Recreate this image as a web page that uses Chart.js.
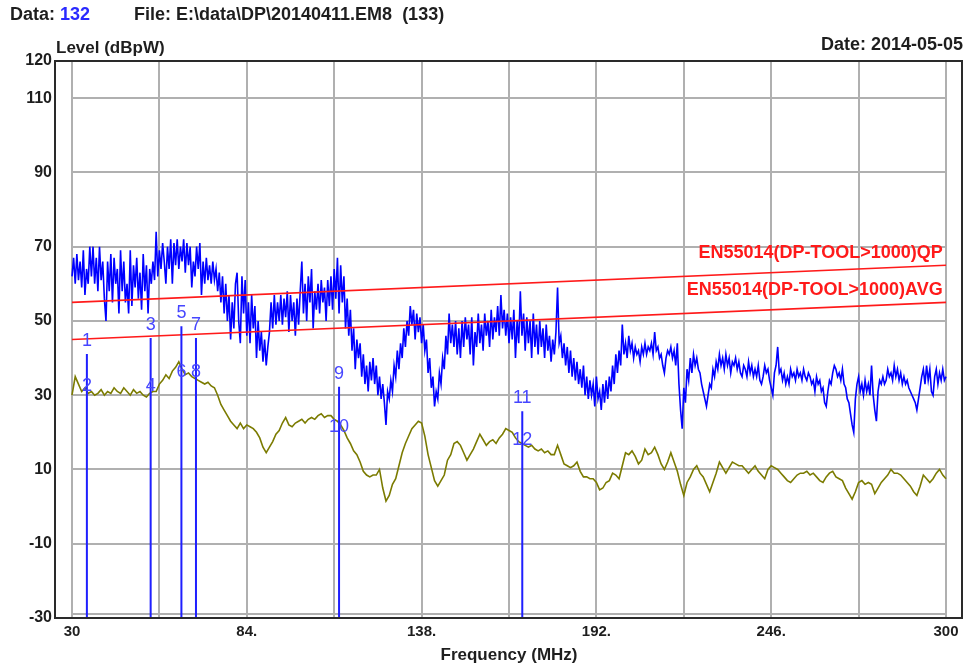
<!DOCTYPE html>
<html><head><meta charset="utf-8">
<script src="https://cdn.jsdelivr.net/npm/chart.js@4/dist/chart.umd.min.js"></script>
<style>html,body{margin:0;padding:0;background:#fff;overflow:hidden}#wrap{width:968px;height:667px}</style>
</head><body><div id="wrap"><canvas id="c" width="968" height="667"></canvas></div>
<script>
// Peak (blue) trace: frequencies in MHz and levels in dBpW
const peakFreqMHz = [
 30,30.5,31,31.5,32,32.5,33,33.5,34,34.5,35,35.5,36,36.5,37,37.5,38,38.5,39,39.5,
 40,40.5,41,41.5,42,42.5,43,43.5,44,44.5,45,45.5,46,46.5,47,47.5,48,48.5,49,49.5,
 50,50.5,51,51.5,52,52.5,53,53.5,54,54.5,55,55.5,56,56.5,57,57.5,58,58.5,59,59.5,
 60,60.5,61,61.5,62,62.5,63,63.5,64,64.5,65,65.5,66,66.5,67,67.5,68,68.5,69,69.5,
 70,70.5,71,71.5,72,72.5,73,73.5,74,74.5,75,75.5,76,76.5,77,77.5,78,78.5,79,79.5,
 80,80.5,81,81.5,82,82.5,83,83.5,84,84.5,85,85.5,86,86.5,87,87.5,88,88.5,89,89.5,
 90,90.5,91,91.5,92,92.5,93,93.5,94,94.5,95,95.5,96,96.5,97,97.5,98,98.5,99,99.5,
 100,100.5,101,101.5,102,102.5,103,103.5,104,104.5,105,105.5,106,106.5,107,107.5,108,108.5,109,109.5,
 110,110.5,111,111.5,112,112.5,113,113.5,114,114.5,115,115.5,116,116.5,117,117.5,118,118.5,119,119.5,
 120,120.5,121,121.5,122,122.5,123,123.5,124,124.5,125,125.5,126,126.5,127,127.5,128,128.5,129,129.5,
 130,130.5,131,131.5,132,132.5,133,133.5,134,134.5,135,135.5,136,136.5,137,137.5,138,138.5,139,139.5,
 140,140.5,141,141.5,142,142.5,143,143.5,144,144.5,145,145.5,146,146.5,147,147.5,148,148.5,149,149.5,
 150,150.5,151,151.5,152,152.5,153,153.5,154,154.5,155,155.5,156,156.5,157,157.5,158,158.5,159,159.5,
 160,160.5,161,161.5,162,162.5,163,163.5,164,164.5,165,165.5,166,166.5,167,167.5,168,168.5,169,169.5,
 170,170.5,171,171.5,172,172.5,173,173.5,174,174.5,175,175.5,176,176.5,177,177.5,178,178.5,179,179.5,
 180,180.5,181,181.5,182,182.5,183,183.5,184,184.5,185,185.5,186,186.5,187,187.5,188,188.5,189,189.5,
 190,190.5,191,191.5,192,192.5,193,193.5,194,194.5,195,195.5,196,196.5,197,197.5,198,198.5,199,199.5,
 200,200.5,201,201.5,202,202.5,203,203.5,204,204.5,205,205.5,206,206.5,207,207.5,208,208.5,209,209.5,
 210,210.5,211,211.5,212,212.5,213,213.5,214,214.5,215,215.5,216,216.5,217,217.5,218,218.5,219,219.5,
 220,220.5,221,221.5,222,222.5,223,223.5,224,224.5,225,225.5,226,226.5,227,227.5,228,228.5,229,229.5,
 230,230.5,231,231.5,232,232.5,233,233.5,234,234.5,235,235.5,236,236.5,237,237.5,238,238.5,239,239.5,
 240,240.5,241,241.5,242,242.5,243,243.5,244,244.5,245,245.5,246,246.5,247,247.5,248,248.5,249,249.5,
 250,250.5,251,251.5,252,252.5,253,253.5,254,254.5,255,255.5,256,256.5,257,257.5,258,258.5,259,259.5,
 260,260.5,261,261.5,262,262.5,263,263.5,264,264.5,265,265.5,266,266.5,267,267.5,268,268.5,269,269.5,
 270,270.5,271,271.5,272,272.5,273,273.5,274,274.5,275,275.5,276,276.5,277,277.5,278,278.5,279,279.5,
 280,280.5,281,281.5,282,282.5,283,283.5,284,284.5,285,285.5,286,286.5,287,287.5,288,288.5,289,289.5,
 290,290.5,291,291.5,292,292.5,293,293.5,294,294.5,295,295.5,296,296.5,297,297.5,298,298.5,299,299.5,
 300];

const peakLevel = [
 62,67,60,68,61,66,59,69,57,64,60,70,62,70,60,67,58,70,61,66,
 56,50,66,58,68,55,67,60,64,52,69,58,66,55,60,52,69,54,65,59,
 67,56,63,53,68,58,65,52,64,60,66,61,74,62,69,64,71,66,60,70,
 64,72,60,71,65,72,64,70,66,72,63,71,65,70,59,66,62,70,64,71,
 57,66,60,67,61,65,60,66,61,64,58,63,55,62,52,60,50,57,45,55,
 48,60,63,50,44,62,52,61,46,55,44,57,48,54,40,50,42,47,39,45,
 38,43,47,55,48,57,49,55,50,57,49,56,51,58,47,57,50,55,46,56,
 49,58,66,52,60,50,62,55,64,48,58,53,60,52,61,55,59,50,61,54,
 62,53,64,56,67,52,65,55,62,48,56,46,53,42,48,37,45,40,44,35,
 41,33,38,31,39,34,40,33,38,30,35,29,33,28,22,31,29,34,31,38,
 35,42,37,44,40,48,43,50,46,54,49,53,45,52,47,51,44,49,42,45,
 36,40,32,35,27,31,29,36,33,40,37,46,41,52,44,49,43,50,41,48,
 40,50,43,51,45,49,41,51,38,47,43,52,44,49,42,52,46,50,43,53,
 45,51,47,54,46,57,48,53,46,52,44,51,45,53,40,50,44,58,46,52,
 42,51,44,50,40,52,43,49,41,50,43,48,40,49,42,46,39,45,41,47,
 59,44,46,40,44,38,43,36,42,35,40,34,39,33,37,32,38,30,35,29,
 34,30,33,27,35,29,31,26,33,28,34,29,35,31,38,33,41,36,42,38,
 49,41,44,40,46,42,44,40,43,41,42,39,43,41,44,41,43,42,44,41,
 47,42,43,40,41,38,36,40,42,41,43,40,42,38,44,33,26,21,32,28,
 37,34,40,36,41,38,40,37,36,33,31,29,27,30,33,32,37,35,39,37,
 41,38,40,37,41,38,40,36,39,38,40,37,39,36,35,38,37,35,39,36,
 38,35,37,35,38,34,33,35,38,36,37,34,32,30,36,38,43,36,37,34,
 36,33,35,33,37,35,36,34,37,35,36,34,37,35,34,36,35,33,34,31,
 35,33,34,31,32,28,27,31,34,33,36,38,37,35,36,34,37,33,32,29,
 28,25,22,20,29,33,35,31,33,30,34,31,33,30,38,30,26,23,31,34,
 33,35,33,34,37,35,36,34,38,35,37,34,36,33,35,33,34,32,31,30,
 29,28,26,29,32,35,37,33,38,34,37,31,30,35,37,33,36,34,37,34,
 35];

// Average (olive) trace
const avgFreqMHz = [
 30,31,32,33,34,35,36,37,38,39, 40,41,42,43,44,45,46,47,48,49,
 50,51,52,53,54,55,56,57,58,59, 60,61,62,63,64,65,66,67,68,69,
 70,71,72,73,74,75,76,77,78,79, 80,81,82,83,84,85,86,87,88,89,
 90,91,92,93,94,95,96,97,98,99, 100,101,102,103,104,105,106,107,108,109,
 110,111,112,113,114,115,116,117,118,119, 120,121,122,123,124,125,126,127,128,129,
 130,131,132,133,134,135,136,137,138,139, 140,141,142,143,144,145,146,147,148,149,
 150,151,152,153,154,155,156,157,158,159, 160,161,162,163,164,165,166,167,168,169,
 170,171,172,173,174,175,176,177,178,179, 180,181,182,183,184,185,186,187,188,189,
 190,191,192,193,194,195,196,197,198,199, 200,201,202,203,204,205,206,207,208,209,
 210,211,212,213,214,215,216,217,218,219, 220,221,222,223,224,225,226,227,228,229,
 230,231,232,233,234,235,236,237,238,239, 240,241,242,243,244,245,246,247,248,249,
 250,251,252,253,254,255,256,257,258,259, 260,261,262,263,264,265,266,267,268,269,
 270,271,272,273,274,275,276,277,278,279, 280,281,282,283,284,285,286,287,288,289,
 290,291,292,293,294,295,296,297,298,299, 300];

const avgLevel = [
 30,35,33,31,32,30.5,31,30,30.5,31.5, 30,31,30.5,32,31,30.5,32,31,30,31.5,
 30.5,31,30,29.5,30.5,31,31,33,34,35.5, 34.5,36.5,37.5,39,37,35.5,36,35,34.5,34,
 33.5,33,33.5,32.5,32,30,27.5,26,24.5,23, 22,21,22.5,21,22,21.5,21,20,18.5,16,
 14.5,16,17.5,19.5,20.5,22.5,24,22,21.5,22.5, 23,23.5,22.5,23.5,24,23.5,24.5,25,24,24.5,
 24.5,23.5,23,22,20.5,18.5,17,15,14,12, 9.5,8.5,8,8.5,8.5,10,5,1.5,3,6,
 7.5,11,14.5,17,19,21,22,23,22.5,19, 14,10.5,7,5.5,7,8.5,12.5,14,17,17.5,
 16.5,14.5,12.5,14,15.5,17.5,19.5,18,16.5,17.5, 18,17,18.5,19.5,21,20.5,20,18.5,17.5,17,
 16.5,16,16.5,15.5,15,15.5,14.5,15,14,14, 16.5,14,11.5,11,10.5,11,12,9.5,8,8,
 7.5,7.5,6.5,4.5,5,6.5,7,9,8.5,7.5, 11,14.5,14,15,13.5,11.5,12.5,15.5,14,14.5,
 16,14,11.5,10,12,14.5,12,9.5,6,3, 6.5,8,10,11,9,8,6,4,6.5,9,
 12,10.5,9,10.5,12,11.5,11,11,10,9, 10,11,9.5,8.5,7.5,10,11,10.5,10,9,
 8,7,6.5,7.5,8.5,9,9,9.5,8.5,9, 8,7,6.5,8,9,9.5,8,7.5,7,5,
 3.5,2,4,6.5,7,6,6.5,6,3.5,5, 6.5,7.5,8.5,10,9,9,8.5,7.5,6.5,5.5,
 4,3,5.5,8.5,7.5,6.5,7.5,9,10,8.5, 7.5];

const limitFreq = [30, 300];
const limitQP = [55, 65];
const limitAVG = [45, 55];
const limitNames = ['EN55014(DP-TOOL>1000)QP', 'EN55014(DP-TOOL>1000)AVG'];

const markerFreq = [34.6, 54.3, 63.8, 68.3, 112.5, 169.1];
const markerPeak = [41.1, 45.4, 48.6, 45.4, 32.3, 25.7];
const markerAvg = [32.5, 32.5, 36.2, 36.2, 21.4, 17.9];
const markerPeakLabels = ['1', '3', '5', '7', '9', '11'];
const markerAvgLabels = ['2', '4', '6', '8', '10', '12'];

const xTickValues = [30, 57, 84, 111, 138, 165, 192, 219, 246, 273, 300];
const xTickLabels = {30: '30', 84: '84.', 138: '138.', 192: '192.', 246: '246.', 300: '300'};
const yTickValues = [-30, -10, 10, 30, 50, 70, 90, 110, 120];
const yGridValues = [110, 90, 70, 50, 30, 10, -10, -29];

const FONT = '"Liberation Sans", Arial, sans-serif';
const TXT = '#1e1e1e';
const GRID = '#b0b0b0';

const markerDatasets = markerFreq.map((f, i) => ({
  data: [{x: f, y: markerPeak[i]}, {x: f, y: -30}],
  borderColor: '#1f1fff', borderWidth: 2, pointRadius: 0
}));

const datasets = [
  ...markerDatasets,
  {data: limitFreq.map((f, i) => ({x: f, y: limitQP[i]})), borderColor: '#ff1a1a', borderWidth: 1.6, pointRadius: 0},
  {data: limitFreq.map((f, i) => ({x: f, y: limitAVG[i]})), borderColor: '#ff1a1a', borderWidth: 1.6, pointRadius: 0},
  {data: peakFreqMHz.map((f, i) => ({x: f, y: peakLevel[i]})), borderColor: '#0000ff', borderWidth: 1.6, pointRadius: 0},
  {data: avgFreqMHz.map((f, i) => ({x: f, y: avgLevel[i]})), borderColor: '#7b7b00', borderWidth: 1.6, pointRadius: 0}
];

const decor = {
  id: 'decor',
  beforeDatasetsDraw(chart) {
    const {ctx, scales: {x, y}} = chart;
    ctx.save();
    ctx.strokeStyle = GRID; ctx.lineWidth = 2;
    const x0 = x.getPixelForValue(30), x1 = x.getPixelForValue(300);
    yGridValues.forEach(v => {
      const py = Math.round(y.getPixelForValue(v));
      ctx.beginPath(); ctx.moveTo(x0, py); ctx.lineTo(x1, py); ctx.stroke();
    });
    ctx.restore();
  },
  afterDatasetsDraw(chart) {
    const {ctx, scales: {x, y}, chartArea: a} = chart;
    ctx.save();
    ctx.font = '18px ' + FONT;
    ctx.fillStyle = '#4646ff';
    ctx.textAlign = 'center'; ctx.textBaseline = 'middle';
    markerFreq.forEach((f, i) => {
      const px = x.getPixelForValue(f);
      ctx.fillText(markerPeakLabels[i], px, y.getPixelForValue(markerPeak[i]) - 13);
      ctx.fillText(markerAvgLabels[i], px, y.getPixelForValue(markerAvg[i]));
    });
    ctx.font = 'bold 18px ' + FONT;
    ctx.fillStyle = '#ff1a1a';
    ctx.textAlign = 'right';
    ctx.fillText(limitNames[0], x.getPixelForValue(299), y.getPixelForValue(68.3));
    ctx.fillText(limitNames[1], x.getPixelForValue(299), y.getPixelForValue(58.3));
    ctx.strokeStyle = '#2a2a2a'; ctx.lineWidth = 2;
    ctx.strokeRect(a.left, a.top, a.right - a.left, a.bottom - a.top);
    ctx.restore();
  },
  afterDraw(chart) {
    const {ctx, scales: {x}} = chart;
    ctx.save();
    ctx.textBaseline = 'middle';
    ctx.font = 'bold 18px ' + FONT;
    ctx.fillStyle = TXT; ctx.textAlign = 'left';
    ctx.fillText('Data: ', 10, 15);
    const w = ctx.measureText('Data: ').width;
    ctx.fillStyle = '#2a2aff';
    ctx.fillText('132', 10 + w, 15);
    ctx.fillStyle = TXT;
    ctx.fillText('File: E:\\data\\DP\\20140411.EM8  (133)', 134, 15);
    ctx.font = 'bold 17px ' + FONT;
    ctx.fillText('Level (dBpW)', 56, 48);
    ctx.font = 'bold 18px ' + FONT;
    ctx.textAlign = 'right';
    ctx.fillText('Date: 2014-05-05', 963, 45);
    ctx.font = 'bold 17px ' + FONT;
    ctx.textAlign = 'center';
    ctx.fillText('Frequency (MHz)', (x.getPixelForValue(30) + x.getPixelForValue(300)) / 2, 655);
    ctx.restore();
  }
};

new Chart(document.getElementById('c'), {
  type: 'line',
  data: {datasets},
  options: {
    responsive: false, animation: false, devicePixelRatio: 1,
    layout: {padding: {top: 61, right: 6, left: 0, bottom: 0}},
    elements: {line: {tension: 0, borderJoinStyle: 'miter'}},
    plugins: {legend: {display: false}, tooltip: {enabled: false}, title: {display: false}},
    scales: {
      x: {
        type: 'linear', min: 24.75, max: 304.94,
        afterBuildTicks: s => { s.ticks = xTickValues.map(v => ({value: v})); },
        afterFit: s => { s.height = 49; },
        ticks: {callback: v => xTickLabels[v] ?? '', autoSkip: false, maxRotation: 0, padding: 5,
                color: TXT, font: {family: FONT, size: 15, weight: 'bold'}},
        grid: {color: GRID, lineWidth: 2, drawTicks: false},
        border: {display: false}
      },
      y: {
        type: 'linear', min: -30, max: 120,
        afterBuildTicks: s => { s.ticks = yTickValues.map(v => ({value: v})); },
        afterFit: s => { s.width = 55; },
        ticks: {callback: v => String(v), padding: 3, color: TXT, font: {family: FONT, size: 16, weight: 'bold'}},
        grid: {display: false, drawTicks: false},
        border: {display: false}
      }
    }
  },
  plugins: [decor]
});
</script></body></html>
